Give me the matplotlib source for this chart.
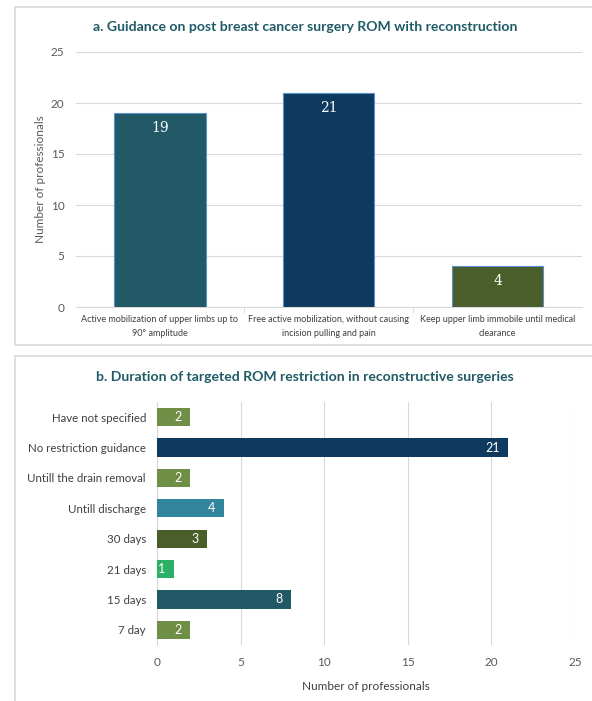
import matplotlib.pyplot as plt
from matplotlib.patches import Rectangle

plt.rcParams['font.family'] = ['Lato', 'DejaVu Sans']

# panel a
a_labels = ['Active mobilization of upper limbs up to\n90° amplitude',
            'Free active mobilization, without causing\nincision pulling and pain',
            'Keep upper limb immobile until medical\nclearance']
a_values = [19, 21, 4]
a_colors = ['#215a66', '#0f3a5f', '#4a5e2b']

# panel b
b_labels = ['Have not specified', 'No restriction guidance', 'Untill the drain removal',
            'Untill discharge', '30 days', '21 days', '15 days', '7 day']
b_values = [2, 21, 2, 4, 3, 1, 8, 2]
b_colors = ['#6e8f45', '#0f3a5f', '#6e8f45', '#31859c', '#4a5e2b', '#2ab165', '#215a66', '#6e8f45']

title_color = '#1f5a66'
grid_color = '#d9d9d9'
tick_color = '#595959'

fig = plt.figure(figsize=(5.92, 7.01), dpi=100)
W, H = 592, 701

def px(x0, y0, x1, y1):
    return [x0 / W, 1 - y1 / H, (x1 - x0) / W, (y1 - y0) / H]

# panel frames
for (x0, y0, x1, y1) in [(15, 7, 600, 345), (15, 356, 600, 710)]:
    fig.patches.append(Rectangle((x0 / W, 1 - y1 / H), (x1 - x0) / W, (y1 - y0) / H,
                                 transform=fig.transFigure, fill=False,
                                 edgecolor='#d9d9d9', linewidth=1.2))

# ---- a ----
ax1 = fig.add_axes(px(75.5, 52, 582, 307))
x = range(len(a_values))
bars = ax1.bar(x, a_values, width=0.54, color=a_colors, edgecolor='#5b8fc9', linewidth=0.8, zorder=3)
for b, v in zip(bars, a_values):
    ax1.text(b.get_x() + b.get_width() / 2, v - 0.8, str(v), ha='center', va='top',
             color='white', fontsize=10, family='DejaVu Serif')
ax1.set_xlim(-0.5, 2.5)
ax1.set_ylim(0, 25)
ax1.set_yticks([0, 5, 10, 15, 20, 25])
ax1.grid(axis='y', color=grid_color, linewidth=0.8, zorder=0)
ax1.set_xticks(list(x))
ax1.set_xticklabels(a_labels, fontsize=6.5, color='#404040', linespacing=1.6)
ax1.set_xticks([0.5, 1.5], minor=True)
ax1.tick_params(axis='x', which='major', length=0, pad=6)
ax1.tick_params(axis='x', which='minor', length=4, color=grid_color)
ax1.tick_params(axis='y', length=0, labelsize=8.5, labelcolor=tick_color, pad=8)
for s in ['top', 'right', 'left']:
    ax1.spines[s].set_visible(False)
ax1.spines['bottom'].set_color(grid_color)
ax1.set_ylabel('Number of professionals', fontsize=8.5, color=tick_color, labelpad=3)
fig.text(305 / W, 1 - 27 / H, 'a. Guidance on post breast cancer surgery ROM with reconstruction',
         ha='center', va='center', fontsize=10.1, fontweight='bold', color=title_color)

# ---- b ----
ax2 = fig.add_axes(px(157, 402, 575, 645))
y = range(len(b_values))
bars = ax2.barh(y, b_values, height=0.6, color=b_colors, zorder=3)
for b, v in zip(bars, b_values):
    ax2.text(v - 0.5, b.get_y() + b.get_height() / 2, str(v), ha='right', va='center',
             color='white', fontsize=9)
ax2.set_ylim(len(b_values) - 0.5, -0.5)
ax2.set_xlim(0, 25)
ax2.set_xticks([0, 5, 10, 15, 20, 25])
ax2.set_yticks(list(y))
ax2.set_yticklabels(b_labels, fontsize=8.3, color='#404040')
ax2.grid(axis='x', color=grid_color, linewidth=0.8, zorder=0)
ax2.tick_params(axis='y', length=0, pad=8)
ax2.tick_params(axis='x', length=0, labelsize=8.5, labelcolor=tick_color, pad=9)
for s in ['top', 'right', 'bottom']:
    ax2.spines[s].set_visible(False)
ax2.spines['left'].set_color(grid_color)
ax2.set_xlabel('Number of professionals', fontsize=8.5, color='#404040', labelpad=9)
fig.text(305 / W, 1 - 377 / H, 'b. Duration of targeted ROM restriction in reconstructive surgeries',
         ha='center', va='center', fontsize=10.1, fontweight='bold', color=title_color)

fig.savefig('out.png', dpi=100)
